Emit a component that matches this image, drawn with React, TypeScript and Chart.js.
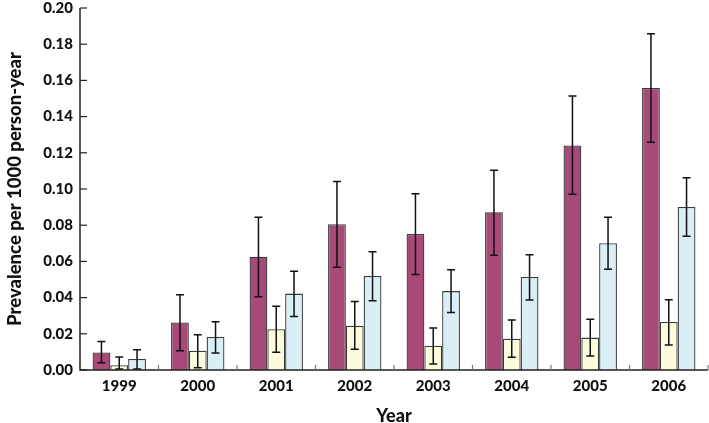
import React, { useEffect, useRef } from "react";
import { Chart, registerables } from "chart.js";

Chart.register(...registerables);

const years = ["1999", "2000", "2001", "2002", "2003", "2004", "2005", "2006"];

const seriesA = [0.0097, 0.0263, 0.0626, 0.0805, 0.0751, 0.0871, 0.1241, 0.1558];
const seriesAHigh = [0.0158, 0.0416, 0.0844, 0.1042, 0.0974, 0.1103, 0.1514, 0.1858];
const seriesALow = [0.004, 0.0107, 0.0405, 0.0567, 0.0527, 0.0634, 0.0971, 0.1258];

const seriesB = [0.0026, 0.0107, 0.0225, 0.0245, 0.0134, 0.0173, 0.0179, 0.0265];
const seriesBHigh = [0.0072, 0.0195, 0.0352, 0.0379, 0.0232, 0.0276, 0.028, 0.0388];
const seriesBLow = [0.0005, 0.0013, 0.0098, 0.0114, 0.0033, 0.007, 0.0077, 0.0138];

const seriesC = [0.0061, 0.0182, 0.0422, 0.0519, 0.0436, 0.0514, 0.07, 0.0901];
const seriesCHigh = [0.0112, 0.0267, 0.0545, 0.0654, 0.0554, 0.0637, 0.0844, 0.1062];
const seriesCLow = [0.0006, 0.0094, 0.0295, 0.0383, 0.0317, 0.0387, 0.0556, 0.0739];

const yTitle = "Prevalence per 1000 person-year";
const xTitle = "Year";

const FONT = "Lato, 'DejaVu Sans', sans-serif";

const errorBarPlugin = {
  id: "errorBars",
  afterDatasetsDraw(chart: any) {
    const ctx = chart.ctx;
    const yScale = chart.scales.y;
    ctx.save();
    ctx.strokeStyle = "#111";
    ctx.lineWidth = 1.5;
    chart.data.datasets.forEach((ds: any, di: number) => {
      const meta = chart.getDatasetMeta(di);
      meta.data.forEach((bar: any, i: number) => {
        const hi = yScale.getPixelForValue(ds.errHigh[i]);
        const lo = yScale.getPixelForValue(ds.errLow[i]);
        const x = bar.x;
        ctx.beginPath();
        ctx.moveTo(x, hi);
        ctx.lineTo(x, lo);
        ctx.moveTo(x - 4, hi);
        ctx.lineTo(x + 4, hi);
        ctx.moveTo(x - 4, lo);
        ctx.lineTo(x + 4, lo);
        ctx.stroke();
      });
    });
    ctx.restore();
  },
};

const innerTicksPlugin = {
  id: "innerTicks",
  afterDraw(chart: any) {
    const ctx = chart.ctx;
    const { left, right, top, bottom } = chart.chartArea;
    const y = chart.scales.y;
    const x = chart.scales.x;
    ctx.save();
    ctx.strokeStyle = "#222";
    ctx.lineWidth = 1.5;
    ctx.beginPath();
    ctx.moveTo(left, top);
    ctx.lineTo(left, bottom);
    ctx.lineTo(right, bottom);
    ctx.stroke();
    ctx.lineWidth = 1.2;
    y.ticks.forEach((_t: any, i: number) => {
      const py = y.getPixelForTick(i);
      ctx.beginPath();
      ctx.moveTo(left, py);
      ctx.lineTo(left + 7, py);
      ctx.stroke();
    });
    ctx.strokeStyle = "#777";
    const n = x.ticks.length;
    const step = x.getPixelForTick(1) - x.getPixelForTick(0);
    for (let i = 0; i < n; i++) {
      const px = x.getPixelForTick(i) + step / 2;
      ctx.beginPath();
      ctx.moveTo(px, bottom);
      ctx.lineTo(px, bottom - 5);
      ctx.stroke();
    }
    ctx.restore();
  },
};

export default function App() {
  const ref = useRef<HTMLCanvasElement>(null);
  useEffect(() => {
    if (!ref.current) return;
    const border = "#3a3a3a";
    const chart = new Chart(ref.current, {
      type: "bar",
      data: {
        labels: years,
        datasets: [
          { data: seriesA, errHigh: seriesAHigh, errLow: seriesALow, backgroundColor: "#A84A78", borderColor: border, borderWidth: 1.3 } as any,
          { data: seriesB, errHigh: seriesBHigh, errLow: seriesBLow, backgroundColor: "#FDFBDD", borderColor: border, borderWidth: 1.3 } as any,
          { data: seriesC, errHigh: seriesCHigh, errLow: seriesCLow, backgroundColor: "#DAEEF5", borderColor: border, borderWidth: 1.3 } as any,
        ],
      },
      options: {
        animation: false,
        responsive: false,
        layout: { padding: { top: 8, right: 1, left: 0, bottom: 0 } },
        datasets: { bar: { categoryPercentage: 0.68, barPercentage: 1 } },
        plugins: { legend: { display: false }, tooltip: { enabled: false } },
        scales: {
          x: {
            grid: { display: false, drawTicks: false },
            border: { display: false },
            ticks: { color: "#111", font: { family: FONT, size: 15, weight: 900 }, padding: 7 },
            title: { display: true, text: xTitle, color: "#111", font: { family: FONT, size: 18, weight: 900 }, padding: { top: 11, bottom: -4 } },
            afterFit: (s: any) => { s.height = 53; s.paddingLeft = 0; s.paddingRight = 0; },
          },
          y: {
            min: 0,
            max: 0.2,
            grid: { display: false, drawTicks: false },
            border: { display: false },
            ticks: {
              stepSize: 0.02,
              color: "#111",
              font: { family: FONT, size: 15, weight: 900 },
              padding: 7,
              callback: (v: any) => Number(v).toFixed(2),
            },
            title: { display: true, text: yTitle, color: "#111", font: { family: FONT, size: 18.5, weight: 900 }, padding: { bottom: 4 } },
            afterFit: (s: any) => { s.width = 80; s.paddingTop = 0; s.paddingBottom = 0; },
          },
        },
      },
      plugins: [errorBarPlugin, innerTicksPlugin],
    } as any);
    return () => chart.destroy();
  }, []);
  return (
    <div style={{ position: "fixed", left: 0, top: 0, width: 709, height: 423, background: "#fff" }}>
      <canvas ref={ref} width={709} height={423} style={{ width: 709, height: 423 }} />
    </div>
  );
}
